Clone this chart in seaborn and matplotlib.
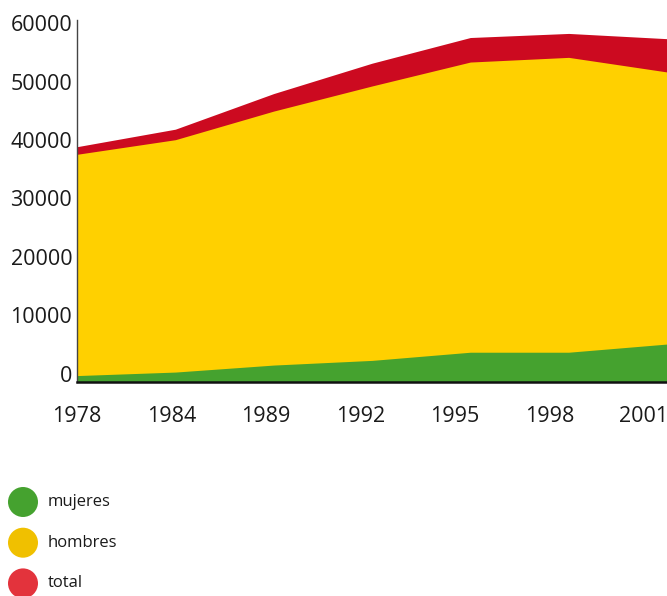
import numpy as np
import pandas as pd
import matplotlib
matplotlib.use("Agg")
import matplotlib.pyplot as plt
import matplotlib.transforms as mtransforms
import seaborn as sns

# Survey years and series values
years = ["1978", "1984", "1989", "1992", "1995", "1998", "2001"]
total = [40300, 43300, 49400, 54600, 59000, 59700, 58800]
hombres = [39000, 41500, 46400, 50700, 54800, 55600, 53100]
mujeres = [1100, 1700, 2900, 3700, 5100, 5100, 6500]
y_ticks = [0, 10000, 20000, 30000, 40000, 50000, 60000]

area_colors = {"total": "#cc0a20", "hombres": "#ffd000", "mujeres": "#45a22f"}
legend_colors = {"mujeres": "#45a22f", "hombres": "#f0c000", "total": "#e3333c"}

sns.set_theme(style="white")
plt.rcParams["font.family"] = ["Open Sans", "DejaVu Sans"]

df = pd.DataFrame({"pos": np.arange(len(years)), "total": total,
                   "hombres": hombres, "mujeres": mujeres})

W, H = 667, 596
fig = plt.figure(figsize=(W / 100, H / 100), dpi=100)
ax = fig.add_axes([77 / W, 1 - 382 / H, 1 - 77 / W, (382 - 20) / H])

# Overlapping areas, back to front
for name in ["total", "hombres", "mujeres"]:
    sns.lineplot(data=df, x="pos", y=name, ax=ax, color=area_colors[name],
                 linewidth=0, legend=False)
    ax.fill_between(df["pos"], 0, df[name], color=area_colors[name],
                    linewidth=0, zorder=2)

ax.set_xlim(0, len(years) - 1)
ax.set_ylim(0, 62000)
ax.set_xlabel("")
ax.set_ylabel("")

ax.set_xticks(np.arange(len(years)) * 0.961)
ax.set_xticklabels(years)
ax.set_yticks(y_ticks)
ax.set_yticklabels([str(v) for v in y_ticks])
ax.tick_params(axis="both", length=0, labelsize=15.5, colors="#1a1a1a")
ax.tick_params(axis="x", pad=17)
ax.tick_params(axis="y", pad=3.5)

# Y labels sit slightly above their gridline level
shift = mtransforms.ScaledTranslation(0, 8.5 / 100, fig.dpi_scale_trans)
for lbl in ax.get_yticklabels():
    lbl.set_transform(lbl.get_transform() + shift)

for side in ["top", "right"]:
    ax.spines[side].set_visible(False)
ax.spines["left"].set_color("#444444")
ax.spines["left"].set_linewidth(1.0)
ax.spines["bottom"].set_color("#111111")
ax.spines["bottom"].set_linewidth(1.8)
ax.spines["left"].set_zorder(5)
ax.spines["bottom"].set_zorder(5)
ax.grid(False)

# Legend drawn as coloured discs with labels below the chart
leg = fig.add_axes([0, 0, 1, 1], zorder=10)
leg.set_xlim(0, W)
leg.set_ylim(H, 0)
leg.axis("off")
leg.patch.set_alpha(0)
for i, name in enumerate(["mujeres", "hombres", "total"]):
    yy = 502 + 40.7 * i
    leg.scatter([23], [yy], s=(30 * 0.72) ** 2, color=legend_colors[name],
                edgecolor="none", clip_on=False)
    leg.text(48, yy, name, fontsize=12, va="center", ha="left", color="#1a1a1a")

fig.savefig("out.png", dpi=100)
